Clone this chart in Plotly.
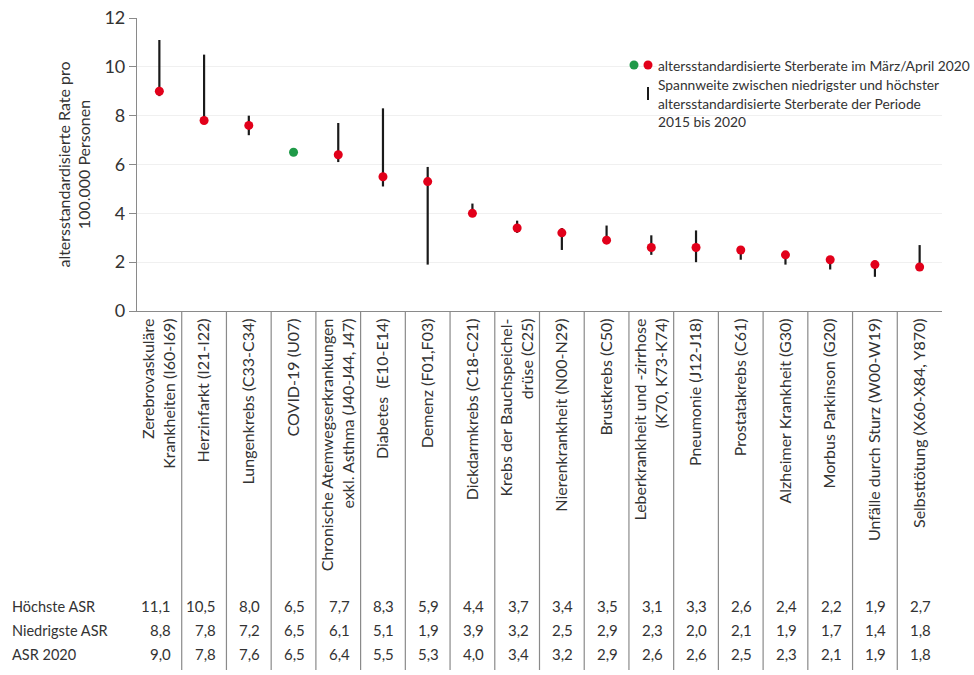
import plotly.graph_objects as go

categories = [
    "Zerebrovaskuläre<br>Krankheiten (I60-I69)",
    "Herzinfarkt (I21-I22)",
    "Lungenkrebs (C33-C34)",
    "COVID-19 (U07)",
    "Chronische Atemwegserkrankungen<br>exkl. Asthma (J40-J44, J47)",
    "Diabetes  (E10-E14)",
    "Demenz (F01,F03)",
    "Dickdarmkrebs (C18-C21)",
    "Krebs der Bauchspeichel-<br>drüse (C25)",
    "Nierenkrankheit (N00-N29)",
    "Brustkrebs (C50)",
    "Leberkrankheit und -zirrhose<br>(K70, K73-K74)",
    "Pneumonie (J12-J18)",
    "Prostatakrebs (C61)",
    "Alzheimer Krankheit (G30)",
    "Morbus Parkinson (G20)",
    "Unfälle durch Sturz (W00-W19)",
    "Selbsttötung (X60-X84, Y870)",
]
high = [11.1, 10.5, 8.0, 6.5, 7.7, 8.3, 5.9, 4.4, 3.7, 3.4, 3.5, 3.1, 3.3, 2.6, 2.4, 2.2, 1.9, 2.7]
low = [8.8, 7.8, 7.2, 6.5, 6.1, 5.1, 1.9, 3.9, 3.2, 2.5, 2.9, 2.3, 2.0, 2.1, 1.9, 1.7, 1.4, 1.8]
asr2020 = [9.0, 7.8, 7.6, 6.5, 6.4, 5.5, 5.3, 4.0, 3.4, 3.2, 2.9, 2.6, 2.6, 2.5, 2.3, 2.1, 1.9, 1.8]
covid_index = 3
row_labels = ["Höchste ASR", "Niedrigste ASR", "ASR 2020"]
y_ticks = [0, 2, 4, 6, 8, 10, 12]

RED = "#e2001a"
GREEN = "#1f9a48"
TXT = "#333333"
FONT = "Lato"

W, H = 974, 675
L, R, T, B = 137, 32, 18, 364
pw, ph = W - L - R, H - T - B


def px_x(p):
    return (p - L) / pw


def px_y(p):
    return (H - B - p) / ph


n = len(categories)
xs = list(range(n))

fig = go.Figure()

# range lines
lx, ly = [], []
for i in xs:
    lx += [i, i, None]
    ly += [low[i], high[i], None]
fig.add_trace(go.Scatter(x=lx, y=ly, mode="lines",
                         line=dict(color="#1a1a1a", width=2.2),
                         hoverinfo="skip", showlegend=False))

colors = [GREEN if i == covid_index else RED for i in xs]
fig.add_trace(go.Scatter(x=xs, y=asr2020, mode="markers",
                         marker=dict(color=colors, size=9, line=dict(width=0)),
                         showlegend=False))

shapes = []
# separators
for i in range(n - 1):
    shapes.append(dict(type="line", xref="x", yref="paper", x0=i + 0.5, x1=i + 0.5,
                       y0=0, y1=px_y(670), line=dict(color="#8a8a8a", width=1.2)))
# legend range bar
shapes.append(dict(type="line", xref="paper", yref="paper", x0=px_x(648), x1=px_x(648),
                   y0=px_y(87), y1=px_y(100), line=dict(color="#1a1a1a", width=2)))
# legend dots
for cx, col in [(634, GREEN), (648, RED)]:
    r = 4.5
    shapes.append(dict(type="circle", xref="paper", yref="paper",
                       x0=px_x(cx - r), x1=px_x(cx + r), y0=px_y(65 + r), y1=px_y(65 - r),
                       fillcolor=col, line=dict(width=0)))

annotations = []
legend_lines = [
    ("altersstandardisierte Sterberate im März/April 2020", 65),
    ("Spannweite zwischen niedrigster und höchster", 84),
    ("altersstandardisierte Sterberate der Periode", 103),
    ("2015 bis 2020", 122),
]
for txt, py in legend_lines:
    annotations.append(dict(text=txt, xref="paper", yref="paper", x=px_x(656), y=px_y(py),
                            xanchor="left", yanchor="middle", showarrow=False,
                            font=dict(size=13.8, color=TXT, family=FONT),
                            bgcolor="white" if py == 65 else None))

# table
row_y = [606, 630, 654]
rows = [high, low, asr2020]
for label, py, vals in zip(row_labels, row_y, rows):
    annotations.append(dict(text=label, xref="paper", yref="paper", x=px_x(10), y=px_y(py),
                            xanchor="left", yanchor="middle", showarrow=False,
                            font=dict(size=14.5, color=TXT, family=FONT)))
    for i in xs:
        annotations.append(dict(text=f"{vals[i]:.1f}".replace(".", ","), xref="x", yref="paper",
                                x=i + 0.3, y=px_y(py), xanchor="right", yanchor="middle",
                                showarrow=False, font=dict(size=15, color=TXT, family=FONT)))

fig.update_layout(
    width=W, height=H,
    margin=dict(l=L, r=R, t=T, b=B),
    paper_bgcolor="white", plot_bgcolor="white",
    font=dict(family=FONT, color=TXT),
    shapes=shapes, annotations=annotations,
    showlegend=False,
)
fig.update_xaxes(range=[-0.5, n - 0.5], tickmode="array", tickvals=xs, ticktext=categories,
                 tickangle=-90, ticks="", showgrid=False, zeroline=False,
                 showline=True, linecolor="#8a8a8a", linewidth=1.2,
                 tickfont=dict(size=16, color=TXT, family=FONT), automargin=False)
fig.update_yaxes(range=[0, 12], tickvals=y_ticks, ticks="outside", ticklen=7,
                 tickcolor="#8a8a8a", showline=True, linecolor="#8a8a8a", linewidth=1.2,
                 gridcolor="#f0f0f0", zeroline=False,
                 tickfont=dict(size=18, color=TXT, family=FONT),
                 title=dict(text="altersstandardisierte Rate pro<br>100.000 Personen",
                            font=dict(size=16, color=TXT, family=FONT), standoff=9),
                 automargin=False)

fig.write_html("out.html")
